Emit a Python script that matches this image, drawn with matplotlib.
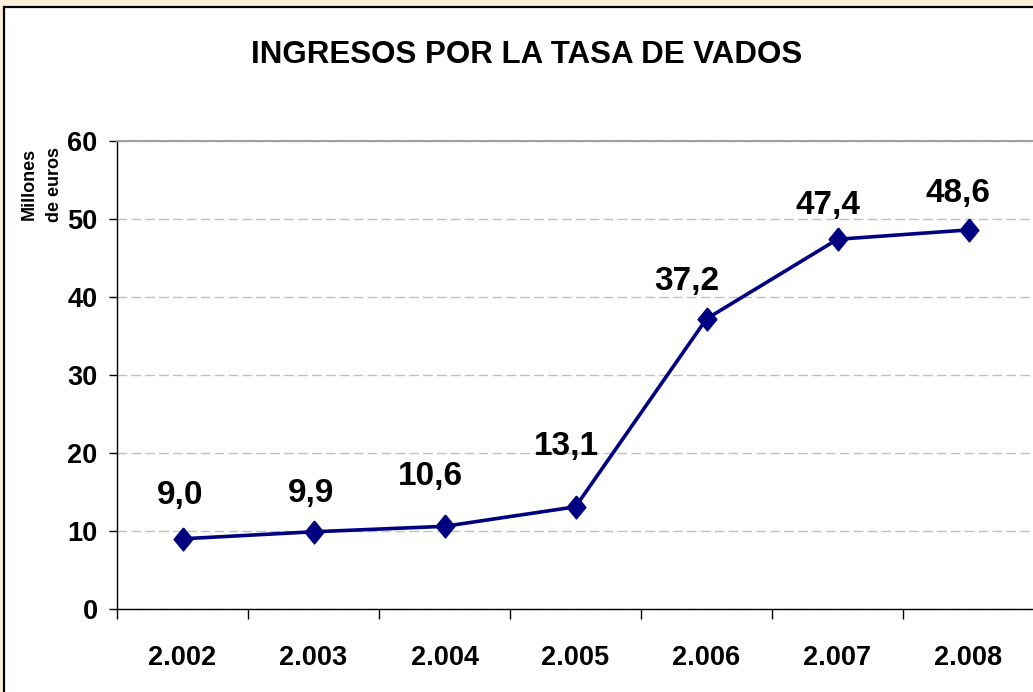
import matplotlib
matplotlib.use("Agg")
from matplotlib import pyplot as plt
from matplotlib.patches import Rectangle
from matplotlib.ticker import MultipleLocator, FixedLocator

years = ["2.002", "2.003", "2.004", "2.005", "2.006", "2.007", "2.008"]
ingresos = [9.0, 9.9, 10.6, 13.1, 37.2, 47.4, 48.6]
etiquetas = ["9,0", "9,9", "10,6", "13,1", "37,2", "47,4", "48,6"]

# label offsets in pixels (dx, dy) from each point, as placed in the original
label_offsets = [(-2, 35), (-2, 30), (-14, 41), (-9, 52), (-20, 29), (-10, 25), (-11, 28)]

plt.rcParams["font.family"] = ["Liberation Sans", "DejaVu Sans"]
plt.rcParams["font.weight"] = "bold"

fig = plt.figure(figsize=(10.33, 6.92), dpi=100, facecolor="#FBEFD9")

# white chart box with a black frame, running off the right and bottom edges
fig.patches.append(Rectangle((4 / 1033, -0.05), 1.1, 1 - 7 / 692 + 0.05,
                             transform=fig.transFigure, facecolor="white",
                             edgecolor="black", linewidth=1.6, zorder=-1))

ax = fig.add_axes([117 / 1033, 83 / 692, 917 / 1033, 468 / 692])
ax.set_facecolor("white")

x = list(range(len(years)))
diamond = [(0, 1), (0.82, 0), (0, -1), (-0.82, 0), (0, 1)]
ax.plot(x, ingresos, color="#000080", linewidth=2.6, marker=diamond,
        markersize=16.5, markerfacecolor="#000080", markeredgecolor="#000080",
        zorder=3, clip_on=False)

for xi, v, txt, (dx, dy) in zip(x, ingresos, etiquetas, label_offsets):
    ax.annotate(txt, (xi, v), xytext=(dx, dy), textcoords="offset pixels",
                ha="center", va="baseline", fontsize=24, fontweight="bold")

ax.set_xlim(-0.5, 6.5)
ax.set_ylim(0, 60)
ax.yaxis.set_major_locator(MultipleLocator(10))
ax.grid(axis="y", color="#C0C0C0", linestyle=(0, (7, 3)), linewidth=1)
ax.set_axisbelow(True)

ax.set_xticks(x)
ax.set_xticklabels(years)
ax.xaxis.set_minor_locator(FixedLocator([i - 0.5 for i in range(len(years) + 1)]))
ax.tick_params(axis="x", which="major", length=0, pad=26, labelsize=19.5)
ax.tick_params(axis="x", which="minor", length=7, width=1, direction="out")
ax.tick_params(axis="y", length=6, width=1, direction="out", pad=8, labelsize=19.5)
for lab in ax.get_xticklabels() + ax.get_yticklabels():
    lab.set_fontweight("bold")

ax.spines["right"].set_visible(False)
ax.spines["top"].set_color("#A0A0A0")
ax.spines["top"].set_linewidth(1.5)
ax.spines["left"].set_linewidth(1)
ax.spines["bottom"].set_linewidth(1)

fig.text(527 / 1033, 1 - 55 / 692, "INGRESOS POR LA TASA DE VADOS",
         ha="center", va="center", fontsize=22.5, fontweight="bold")
fig.text(42 / 1033, 1 - 184 / 692, "Millones\nde euros", rotation=90,
         ha="center", va="center", multialignment="center",
         fontsize=13, fontweight="bold", linespacing=1.6)

fig.savefig("out.png", dpi=100, facecolor=fig.get_facecolor())
